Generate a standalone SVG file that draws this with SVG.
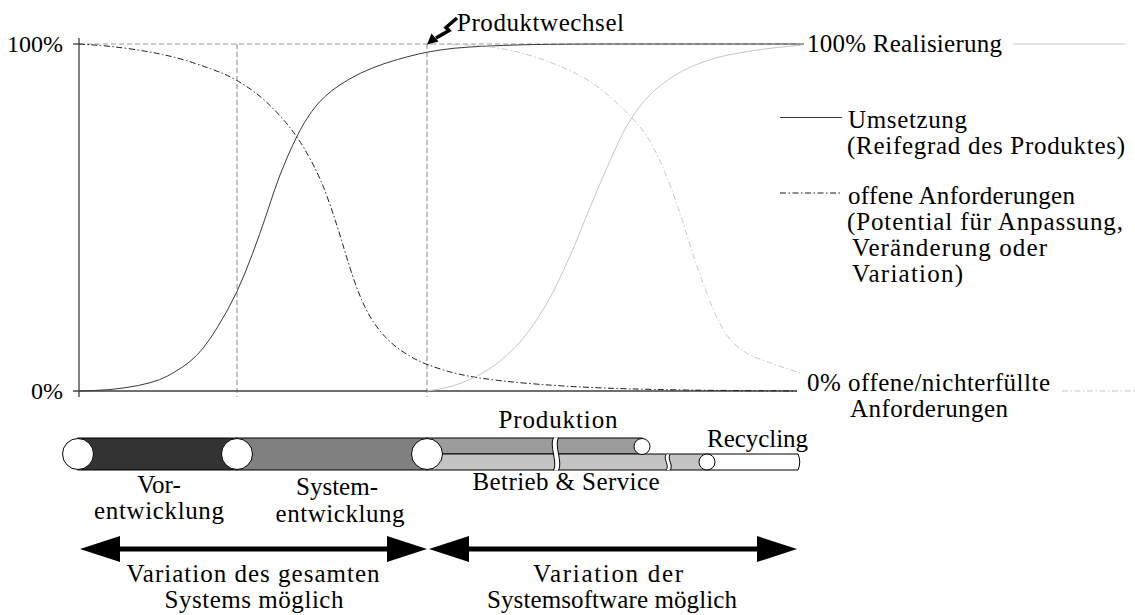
<svg xmlns="http://www.w3.org/2000/svg" width="1135" height="615" viewBox="0 0 1135 615">
  <style>
    .t { font-family: "Liberation Serif", "Times New Roman", Tinos, serif; font-size: 25px; fill: #000; }
    .num { font-size: 24px; }
    .mid { text-anchor: middle; }
    .end { text-anchor: end; }
    .axis { stroke: #404040; stroke-width: 1.3; fill: none; }
    .guide { stroke: #9a9a9a; stroke-width: 1.2; stroke-dasharray: 5 3; fill: none; }
    .real { stroke: #3a3a3a; stroke-width: 1; fill: none; }
    .open { stroke: #1a1a1a; stroke-width: 1; stroke-dasharray: 6 2.5 1.5 2.5; fill: none; }
    .real2 { stroke: #c6c6c6; stroke-width: 1; fill: none; }
    .open2 { stroke: #c6c6c6; stroke-width: 1; stroke-dasharray: 6 2.5 1.5 2.5; fill: none; }
    .bar { stroke: #000; stroke-width: 1; }
    .cap { fill: #fff; stroke: #000; stroke-width: 1; }
    .gap { fill: #fff; }
    .gapedge { fill: none; stroke: #000; stroke-width: 1; }
    .shaft { stroke: #000; stroke-width: 5; }
  </style>

  <!-- axes and guide lines -->
  <g id="axes">
    <line class="guide" x1="79" y1="44" x2="800" y2="44"/>
    <line class="guide" x1="237" y1="44" x2="237" y2="397"/>
    <line class="guide" x1="427" y1="44" x2="427" y2="397"/>
    <line class="axis" x1="79" y1="38" x2="79" y2="397"/>
    <line class="axis" x1="73" y1="44" x2="79" y2="44"/>
    <line class="axis" x1="73" y1="391" x2="797" y2="391"/>
    <text class="t num end" x="63" y="52">100%</text>
    <text class="t num end" x="63" y="399">0%</text>
  </g>

  <!-- curves -->
  <g id="curves">
    <path class="real" d="M79,391 L94.5,390.5 Q110,390 125,387.75 Q140,385.5 150,382.75 Q160,380 167.5,376 Q175,372 182.5,367 Q190,362 196.5,355.5 Q203,349 210.5,338 Q218,327 227.5,310 Q237,293 245,273 Q253,253 259.5,234.5 Q266,216 272.5,196 Q279,176 288,155.5 Q297,135 304.5,122.5 Q312,110 318.5,103 Q325,96 332,90.5 Q339,85 349.5,79 Q360,73 372.5,68 Q385,63 397.5,59.5 Q410,56 418.5,54 Q427,52 440,50 Q453,48 470,47 Q487,46 503.5,45.4 Q520,44.8 536.5,44.5 Q553,44.2 576.5,44.1 Q600,44 620,44 L804,44"/>
    <path class="open" d="M79,44 L94,45 Q109,46 127.5,48.5 Q146,51 162.5,54.5 Q179,58 195.5,63.5 Q212,69 224,74 Q236,79 251,89.5 Q266,100 281.5,117.5 Q297,135 308,155 Q319,175 325,191 Q331,207 335.5,221 Q340,235 344,248.5 Q348,262 353,277 Q358,292 364,305 Q370,318 378.5,329 Q387,340 397,347.5 Q407,355 417,360 Q427,365 443.5,370 Q460,375 480,378 Q500,381 526.5,383.25 Q553,385.5 576.5,386.75 Q600,388 626.5,388.75 Q653,389.5 686.5,390 Q720,390.5 758.5,390.75 L797,391"/>
    <path class="real2" d="M427,391 L438.5,389.25 Q450,387.5 463.5,382.25 Q477,377 488.5,369.5 Q500,362 510,352.5 Q520,343 528.5,331.5 Q537,320 545,306.5 Q553,293 563,271.5 Q573,250 580.5,231 Q588,212 597.5,189.5 Q607,167 618.5,142 Q630,117 645,100 Q660,83 681.5,71.5 Q703,60 728,55 Q753,50 776.5,47.5 L803,45"/>
    <path class="open2" d="M427,44 L443.5,44.35 Q460,44.7 473.5,45.35 Q487,46 503.5,49 Q520,52 536.5,57.5 Q553,63 566.5,69 Q580,75 591.5,82.5 Q603,90 617.5,103.5 Q632,117 640,127 Q648,137 654,148.5 Q660,160 666,175 Q672,190 677.5,206 Q683,222 688,238.5 Q693,255 698,269 Q703,283 708.5,297.5 Q714,312 720.5,324.5 Q727,337 733.5,343 Q740,349 746.5,353 Q753,357 775,364.5 L800,373"/>
  </g>

  <!-- product change marker -->
  <g id="produktwechsel">
    <path d="M457,18 L446,27.5 L449,30.5 L436,38" fill="none" stroke="#000" stroke-width="3.5" stroke-linejoin="miter"/>
    <polygon points="427,44.5 438.5,41.5 431.5,33.5" fill="#000"/>
    <text class="t" x="457" y="31" textLength="167">Produktwechsel</text>
  </g>

  <!-- right-hand labels and legend -->
  <g id="label-realisierung">
    <text class="t" x="807" y="52" textLength="195">100% Realisierung</text>
    <line x1="1013" y1="44" x2="1125" y2="44" stroke="#cccccc" stroke-width="1"/>
  </g>
  <g id="legend-umsetzung">
    <line class="real" x1="780" y1="117.5" x2="842" y2="117.5"/>
    <text class="t" x="848" y="128" textLength="119">Umsetzung</text>
    <text class="t" x="847" y="154" textLength="278">(Reifegrad des Produktes)</text>
  </g>
  <g id="legend-anforderungen">
    <line class="open" x1="780" y1="193" x2="840" y2="193"/>
    <text class="t" x="848" y="204" textLength="227">offene Anforderungen</text>
    <text class="t" x="847" y="230" textLength="276">(Potential für Anpassung,</text>
    <text class="t" x="852" y="256" textLength="195">Veränderung oder</text>
    <text class="t" x="852" y="282" textLength="111">Variation)</text>
  </g>
  <g id="label-offen">
    <text class="t" x="807" y="391" textLength="243">0% offene/nichterfüllte</text>
    <text class="t" x="850" y="417" textLength="158">Anforderungen</text>
    <line class="open2" x1="1062" y1="391" x2="1135" y2="391"/>
  </g>

  <!-- life-cycle phases -->
  <g id="phase-vorentwicklung">
    <rect class="bar" x="78" y="438" width="159" height="32" fill="#333333"/>
    <text class="t mid" x="159" y="493">Vor-</text>
    <text class="t mid" x="159" y="519" textLength="130">entwicklung</text>
  </g>
  <g id="phase-systementwicklung">
    <rect class="bar" x="237" y="438" width="190" height="32" fill="#808080"/>
    <text class="t mid" x="337" y="495">System-</text>
    <text class="t mid" x="340" y="522" textLength="129">entwicklung</text>
  </g>
  <g id="phase-produktion">
    <rect class="bar" x="427" y="438" width="215" height="16" fill="#9c9c9c"/>
    <text class="t mid" x="558" y="428" textLength="119">Produktion</text>
  </g>
  <g id="phase-betrieb">
    <rect class="bar" x="427" y="454" width="280" height="16" fill="#c4c4c4"/>
    <text class="t mid" x="566" y="490" textLength="187">Betrieb &amp; Service</text>
  </g>
  <g id="phase-recycling">
    <path class="bar" d="M707,454 H798 Q801.5,462 798,470 H707 Z" fill="#ffffff"/>
    <text class="t" x="707" y="447" textLength="101">Recycling</text>
  </g>

  <!-- interruptions of the time line -->
  <g id="breaks">
    <path class="gap" d="M553.5,437.5 C549,446 558,462 553.5,470.5 L558.5,470.5 C563,462 554,446 558.5,437.5 Z"/>
    <path class="gapedge" d="M553.5,437.5 C549,446 558,462 553.5,470.5 M558.5,437.5 C554,446 563,462 558.5,470.5"/>
    <path class="gap" d="M666,454.5 C663,459 670,466 666,470 L670,470 C673,466 666,459 670,454.5 Z"/>
    <path class="gapedge" d="M666,454.5 C663,459 670,466 666,470 M670,454.5 C667,459 674,466 670,470"/>
  </g>

  <!-- milestones -->
  <g id="milestones">
    <circle class="cap" cx="78" cy="454" r="15.5"/>
    <circle class="cap" cx="237" cy="454" r="15.5"/>
    <circle class="cap" cx="427" cy="454" r="15.5"/>
    <circle class="cap" cx="642" cy="446.5" r="8"/>
    <circle class="cap" cx="707" cy="462" r="8"/>
  </g>

  <!-- variation ranges -->
  <g id="range-system">
    <line class="shaft" x1="118" y1="549" x2="389" y2="549"/>
    <polygon points="80,549 120,536 120,562"/>
    <polygon points="427,549 387,536 387,562"/>
    <text class="t mid" x="253" y="582" textLength="253">Variation des gesamten</text>
    <text class="t mid" x="254" y="608" textLength="179">Systems möglich</text>
  </g>
  <g id="range-software">
    <line class="shaft" x1="467" y1="549" x2="759" y2="549"/>
    <polygon points="429,549 469,536 469,562"/>
    <polygon points="797,549 757,536 757,562"/>
    <text class="t mid" x="608" y="582" textLength="150">Variation der</text>
    <text class="t mid" x="612" y="608" textLength="250">Systemsoftware möglich</text>
  </g>
</svg>
